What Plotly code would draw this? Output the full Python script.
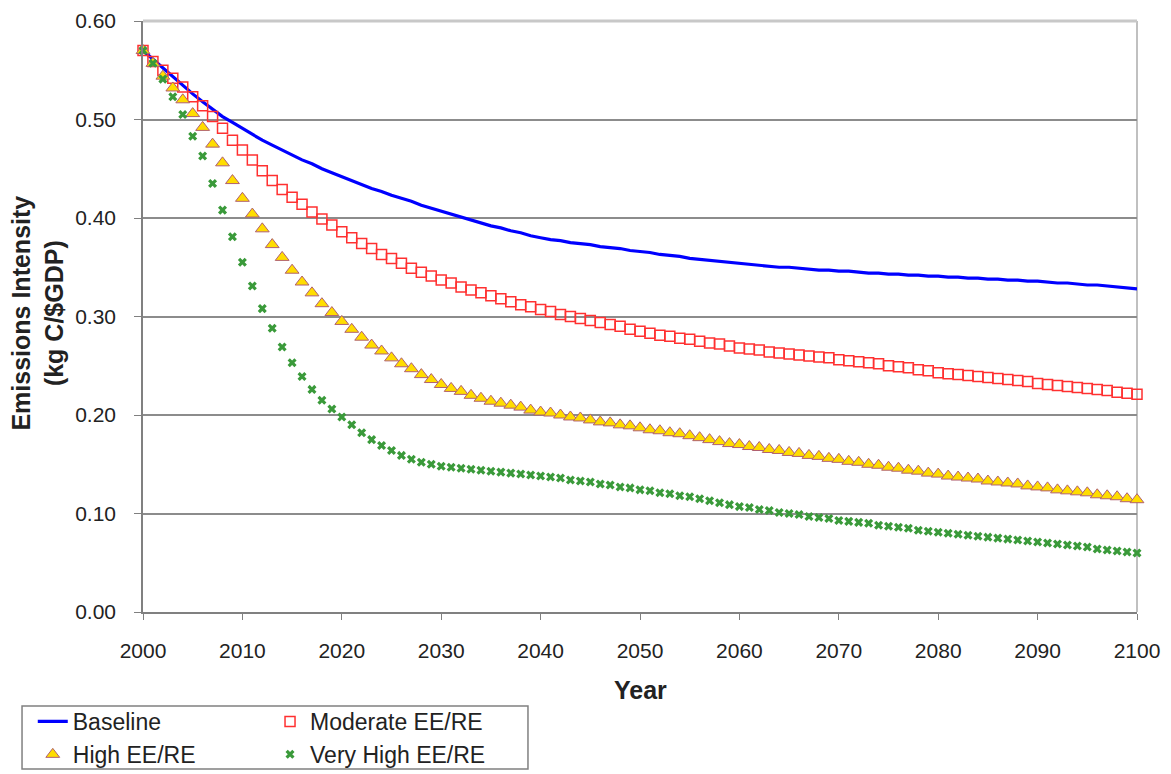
import plotly.graph_objects as go

years = list(range(2000, 2101))

baseline = [
    0.570, 0.561, 0.552, 0.543, 0.535, 0.526, 0.518, 0.510, 0.503, 0.497,
    0.491, 0.485, 0.479, 0.474, 0.469, 0.464, 0.459, 0.455, 0.450, 0.446,
    0.442, 0.438, 0.434, 0.430, 0.427, 0.423, 0.420, 0.417, 0.413, 0.410,
    0.407, 0.404, 0.401, 0.398, 0.395, 0.392, 0.390, 0.387, 0.385, 0.382,
    0.380, 0.378, 0.377, 0.375, 0.374, 0.373, 0.371, 0.370, 0.369, 0.367,
    0.366, 0.365, 0.363, 0.362, 0.361, 0.359, 0.358, 0.357, 0.356, 0.355,
    0.354, 0.353, 0.352, 0.351, 0.350, 0.350, 0.349, 0.348, 0.347, 0.347,
    0.346, 0.346, 0.345, 0.344, 0.344, 0.343, 0.343, 0.342, 0.342, 0.341,
    0.341, 0.340, 0.340, 0.339, 0.339, 0.338, 0.338, 0.337, 0.337, 0.336,
    0.336, 0.335, 0.334, 0.334, 0.333, 0.332, 0.332, 0.331, 0.330, 0.329,
    0.328,
]

moderate = [
    0.570, 0.559, 0.550, 0.542, 0.533, 0.523, 0.514, 0.503, 0.491, 0.479,
    0.469, 0.459, 0.448, 0.438, 0.429, 0.421, 0.414, 0.406, 0.399, 0.393,
    0.386, 0.380, 0.374, 0.369, 0.363, 0.359, 0.354, 0.349, 0.345, 0.341,
    0.337, 0.334, 0.330, 0.327, 0.324, 0.321, 0.318, 0.315, 0.312, 0.310,
    0.307, 0.305, 0.302, 0.300, 0.298, 0.296, 0.294, 0.292, 0.290, 0.287,
    0.285, 0.283, 0.281, 0.280, 0.278, 0.277, 0.275, 0.273, 0.272, 0.270,
    0.268, 0.267, 0.266, 0.264, 0.263, 0.262, 0.261, 0.260, 0.259, 0.258,
    0.256, 0.255, 0.254, 0.253, 0.252, 0.250, 0.249, 0.248, 0.246, 0.245,
    0.243, 0.242, 0.241, 0.240, 0.239, 0.238, 0.237, 0.236, 0.235, 0.234,
    0.232, 0.231, 0.230, 0.229, 0.228, 0.227, 0.226, 0.225, 0.223, 0.222,
    0.221,
]

high = [
    0.570, 0.557, 0.544, 0.532, 0.520, 0.506, 0.492, 0.475, 0.456, 0.438,
    0.420, 0.404, 0.389, 0.373, 0.360, 0.347, 0.335, 0.324, 0.313, 0.304,
    0.295, 0.287, 0.279, 0.271, 0.265, 0.258, 0.252, 0.247, 0.241, 0.236,
    0.231, 0.227, 0.224, 0.220, 0.217, 0.214, 0.212, 0.210, 0.208, 0.205,
    0.203, 0.202, 0.200, 0.198, 0.197, 0.195, 0.193, 0.192, 0.190, 0.189,
    0.187, 0.185, 0.184, 0.182, 0.181, 0.179, 0.177, 0.175, 0.173, 0.171,
    0.170, 0.168, 0.167, 0.165, 0.164, 0.162, 0.161, 0.159, 0.158, 0.156,
    0.155, 0.153, 0.152, 0.150, 0.149, 0.147, 0.146, 0.144, 0.143, 0.141,
    0.140, 0.138, 0.137, 0.136, 0.135, 0.133, 0.132, 0.131, 0.130, 0.128,
    0.127, 0.126, 0.124, 0.123, 0.122, 0.121, 0.119, 0.118, 0.117, 0.115,
    0.114,
]

very_high = [
    0.570, 0.557, 0.541, 0.523, 0.505, 0.483, 0.463, 0.435, 0.408, 0.381,
    0.355, 0.331, 0.308, 0.288, 0.269, 0.253, 0.239, 0.226, 0.215, 0.206,
    0.198, 0.190, 0.182, 0.175, 0.169, 0.164, 0.159, 0.155, 0.152, 0.150,
    0.148, 0.147, 0.146, 0.145, 0.144, 0.143, 0.142, 0.141, 0.140, 0.139,
    0.138, 0.137, 0.136, 0.134, 0.133, 0.132, 0.130, 0.129, 0.127, 0.126,
    0.124, 0.123, 0.121, 0.120, 0.118, 0.117, 0.115, 0.113, 0.111, 0.109,
    0.107, 0.106, 0.104, 0.103, 0.101, 0.100, 0.099, 0.097, 0.096, 0.095,
    0.093, 0.092, 0.091, 0.090, 0.088, 0.087, 0.086, 0.085, 0.083, 0.082,
    0.081, 0.080, 0.079, 0.078, 0.077, 0.076, 0.075, 0.074, 0.073, 0.072,
    0.071, 0.070, 0.069, 0.068, 0.067, 0.066, 0.064, 0.063, 0.062, 0.061,
    0.060,
]

y_ticks = [0.0, 0.1, 0.2, 0.3, 0.4, 0.5, 0.6]
x_ticks = list(range(2000, 2101, 10))

FONT = "Arial, 'Liberation Sans', sans-serif"
TXT = "#222222"

# the page body has an 8px default margin, so the figure is sized to the visible area
W, H = 1163, 766

fig = go.Figure()
fig.add_trace(go.Scatter(
    x=years, y=baseline, name="Baseline", mode="lines",
    line=dict(color="#0000ff", width=3.2), legend="legend", cliponaxis=False))
fig.add_trace(go.Scatter(
    x=years, y=moderate, name="Moderate EE/RE", mode="markers",
    marker=dict(symbol="square-open", size=10, color="#ff3030",
                line=dict(width=1.5, color="#ff3030")),
    legend="legend2", cliponaxis=False))
fig.add_trace(go.Scatter(
    x=years, y=high, name="High EE/RE", mode="markers",
    marker=dict(symbol="triangle-up", size=12, color="#ffdd00",
                line=dict(width=1, color="#b06070")),
    legend="legend", cliponaxis=False))
fig.add_trace(go.Scatter(
    x=years, y=very_high, name="Very High EE/RE", mode="markers",
    marker=dict(symbol="x", size=8, color="#3a9a3a",
                line=dict(width=0)),
    legend="legend2", cliponaxis=False))

fig.update_layout(
    width=W, height=H,
    paper_bgcolor="white", plot_bgcolor="white",
    margin=dict(l=135, r=34, t=13, b=162, autoexpand=False),
    font=dict(family=FONT, size=21, color=TXT),
    showlegend=True,
    legend=dict(xref="container", yref="container", x=0.0213, y=0.0966,
                xanchor="left", yanchor="top", bgcolor="rgba(0,0,0,0)",
                font=dict(size=23, color=TXT), tracegroupgap=0),
    legend2=dict(xref="container", yref="container", x=0.2253, y=0.0966,
                 xanchor="left", yanchor="top", bgcolor="rgba(0,0,0,0)",
                 font=dict(size=23, color=TXT), tracegroupgap=0),
    xaxis=dict(range=[2000, 2100], tickvals=x_ticks, ticktext=[str(v) for v in x_ticks],
               showgrid=False, zeroline=False, showline=True, linecolor="#808080",
               linewidth=1.5, ticks="outside", ticklen=6, tickcolor="#808080",
               ticklabelstandoff=13,
               tickfont=dict(size=21, color=TXT)),
    yaxis=dict(range=[0, 0.6], tickvals=y_ticks, ticktext=[f"{v:.2f}" for v in y_ticks],
               showgrid=True, gridcolor="#8c8c8c", gridwidth=2, zeroline=False,
               showline=True, linecolor="#808080", linewidth=1.5,
               ticks="outside", ticklen=7, tickcolor="#808080",
               ticklabelstandoff=14,
               tickfont=dict(size=21, color=TXT)),
    shapes=[
        dict(type="line", xref="paper", yref="paper", x0=0, x1=1, y0=1, y1=1,
             line=dict(color="#c8c8c8", width=3), layer="above"),
        dict(type="line", xref="paper", yref="paper", x0=1, x1=1, y0=0, y1=1,
             line=dict(color="#c0c0c0", width=2), layer="below"),
        dict(type="rect", xref="paper", yref="paper", x0=-0.1217, x1=0.3873,
             y0=-0.2657, y1=-0.159, line=dict(color="#808080", width=1.5)),
    ],
    annotations=[
        dict(text="<b>Emissions Intensity<br>(kg C/$GDP)</b>", xref="paper", yref="paper",
             x=-0.1056, y=0.505, textangle=-90, showarrow=False,
             font=dict(size=25, color=TXT), xanchor="center", yanchor="middle"),
        dict(text="<b>Year</b>", xref="paper", yref="paper", x=0.5, y=-0.132,
             showarrow=False, font=dict(size=25, color=TXT),
             xanchor="center", yanchor="middle"),
    ],
)

fig.write_html("out.html")
